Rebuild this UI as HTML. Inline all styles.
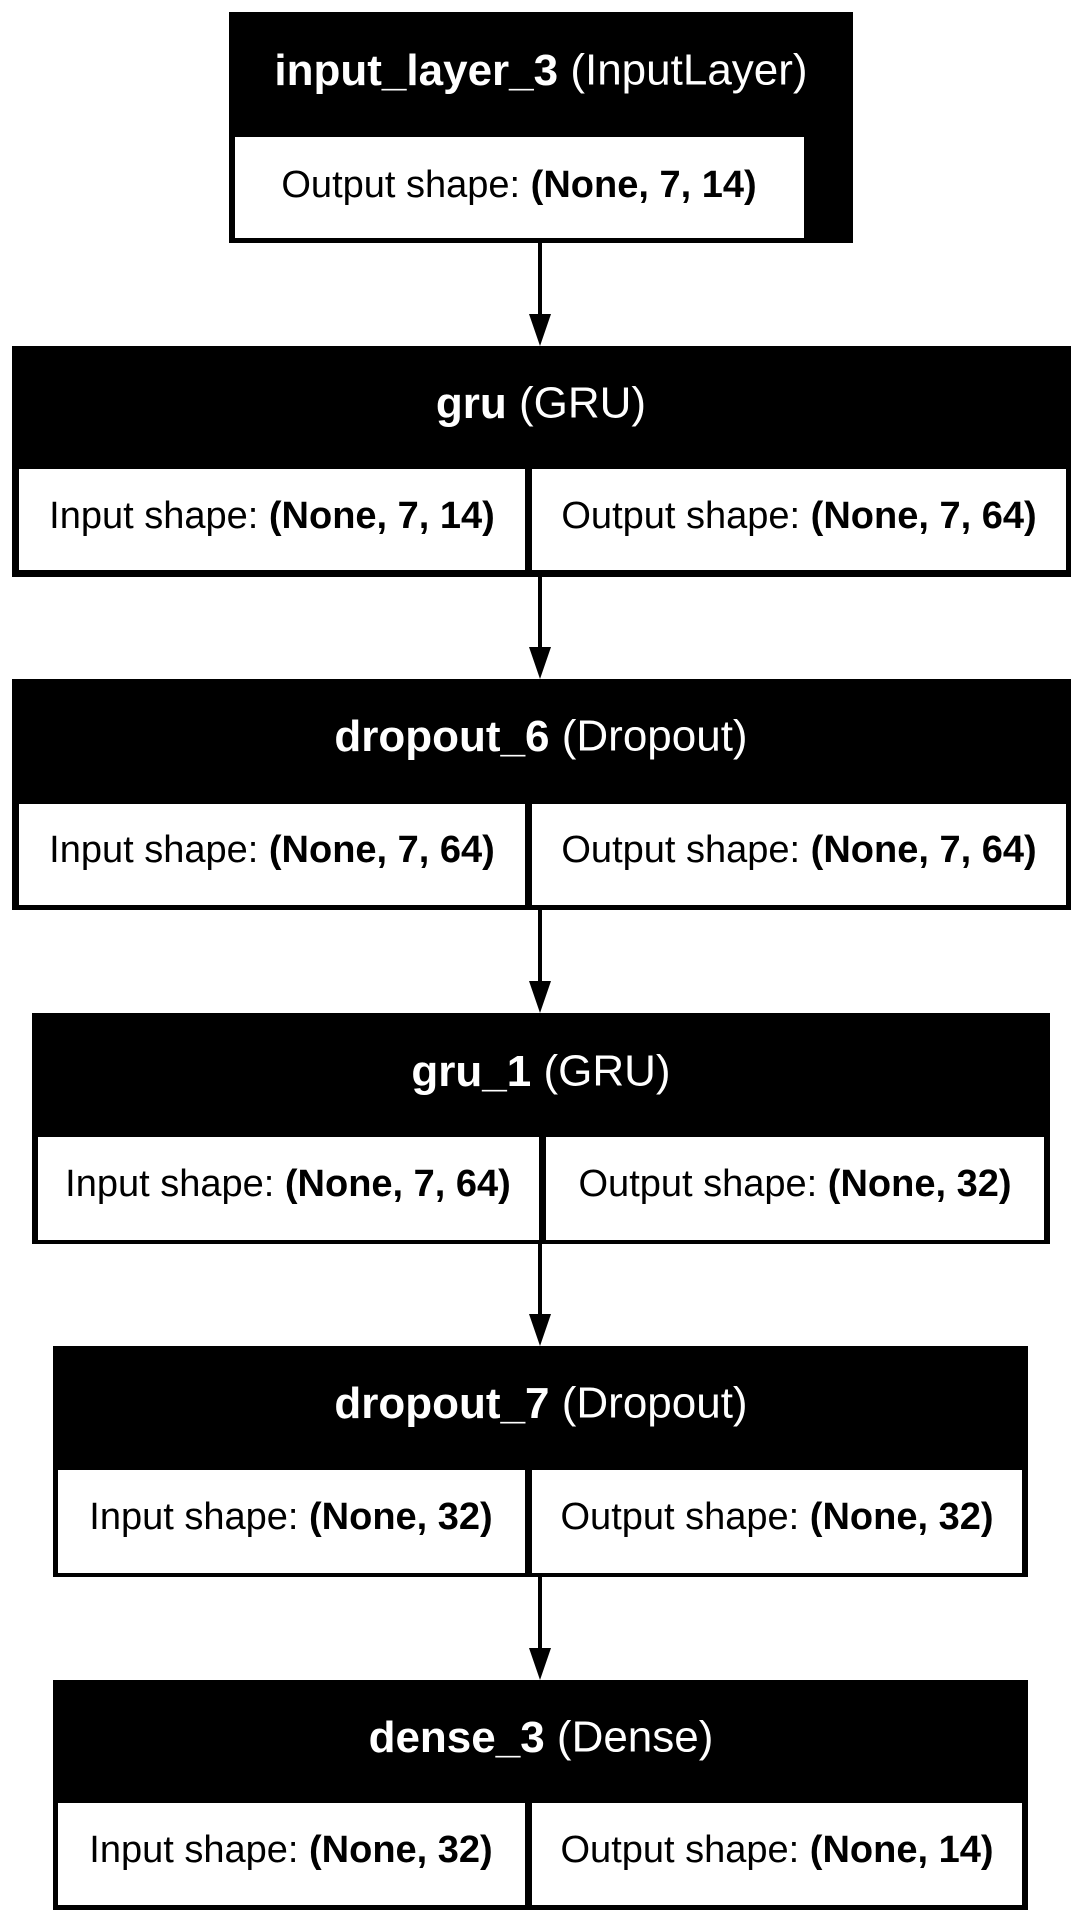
<!DOCTYPE html>
<html><head><meta charset="utf-8"><style>
html,body{margin:0;padding:0;background:#fff;}
svg{display:block;}
text{font-family:"Liberation Sans",sans-serif;dominant-baseline:central;text-anchor:middle;}
.t{font-size:44px;fill:#fff;}
.b{font-size:38px;fill:#000;}
</style></head><body>
<svg width="1081" height="1922" viewBox="0 0 1081 1922" xmlns="http://www.w3.org/2000/svg">
<g stroke="#000" stroke-width="4">
<line x1="540" y1="243" x2="540" y2="320"/>
<line x1="540" y1="577" x2="540" y2="653"/>
<line x1="540" y1="910" x2="540" y2="987"/>
<line x1="540" y1="1244" x2="540" y2="1320"/>
<line x1="540" y1="1577" x2="540" y2="1654"/>
</g>
<g fill="#000">
<polygon points="529,314 551,314 540,346"/>
<polygon points="529,647 551,647 540,679"/>
<polygon points="529,981 551,981 540,1013"/>
<polygon points="529,1314 551,1314 540,1346"/>
<polygon points="529,1648 551,1648 540,1680"/>
</g>

<rect x="229" y="12" width="624" height="231" fill="#000"/>
<rect x="235" y="137" width="569" height="101" fill="#fff"/>
<text class="t" x="541" y="70"><tspan font-weight="bold">input_layer_3</tspan> (InputLayer)</text>
<text class="b" x="519" y="185">Output shape: <tspan font-weight="bold">(None, 7, 14)</tspan></text>

<rect x="12" y="346" width="1059" height="231" fill="#000"/>
<rect x="19" y="469" width="506" height="101" fill="#fff"/>
<rect x="532" y="469" width="534" height="101" fill="#fff"/>
<text class="t" x="541" y="403"><tspan font-weight="bold">gru</tspan> (GRU)</text>
<text class="b" x="272" y="516">Input shape: <tspan font-weight="bold">(None, 7, 14)</tspan></text>
<text class="b" x="799" y="516">Output shape: <tspan font-weight="bold">(None, 7, 64)</tspan></text>

<rect x="12" y="679" width="1059" height="231" fill="#000"/>
<rect x="19" y="804" width="506" height="101" fill="#fff"/>
<rect x="532" y="804" width="534" height="101" fill="#fff"/>
<text class="t" x="541" y="736"><tspan font-weight="bold">dropout_6</tspan> (Dropout)</text>
<text class="b" x="272" y="850">Input shape: <tspan font-weight="bold">(None, 7, 64)</tspan></text>
<text class="b" x="799" y="850">Output shape: <tspan font-weight="bold">(None, 7, 64)</tspan></text>

<rect x="32" y="1013" width="1018" height="231" fill="#000"/>
<rect x="38" y="1137" width="501" height="103" fill="#fff"/>
<rect x="546" y="1137" width="498" height="103" fill="#fff"/>
<text class="t" x="541" y="1071"><tspan font-weight="bold">gru_1</tspan> (GRU)</text>
<text class="b" x="288" y="1184">Input shape: <tspan font-weight="bold">(None, 7, 64)</tspan></text>
<text class="b" x="795" y="1184">Output shape: <tspan font-weight="bold">(None, 32)</tspan></text>

<rect x="53" y="1346" width="975" height="231" fill="#000"/>
<rect x="58" y="1470" width="467" height="103" fill="#fff"/>
<rect x="532" y="1470" width="490" height="103" fill="#fff"/>
<text class="t" x="541" y="1403"><tspan font-weight="bold">dropout_7</tspan> (Dropout)</text>
<text class="b" x="291" y="1517">Input shape: <tspan font-weight="bold">(None, 32)</tspan></text>
<text class="b" x="777" y="1517">Output shape: <tspan font-weight="bold">(None, 32)</tspan></text>

<rect x="53" y="1680" width="975" height="230" fill="#000"/>
<rect x="58" y="1803" width="467" height="102" fill="#fff"/>
<rect x="532" y="1803" width="490" height="102" fill="#fff"/>
<text class="t" x="541" y="1737"><tspan font-weight="bold">dense_3</tspan> (Dense)</text>
<text class="b" x="291" y="1850">Input shape: <tspan font-weight="bold">(None, 32)</tspan></text>
<text class="b" x="777" y="1850">Output shape: <tspan font-weight="bold">(None, 14)</tspan></text>
</svg>
</body></html>
